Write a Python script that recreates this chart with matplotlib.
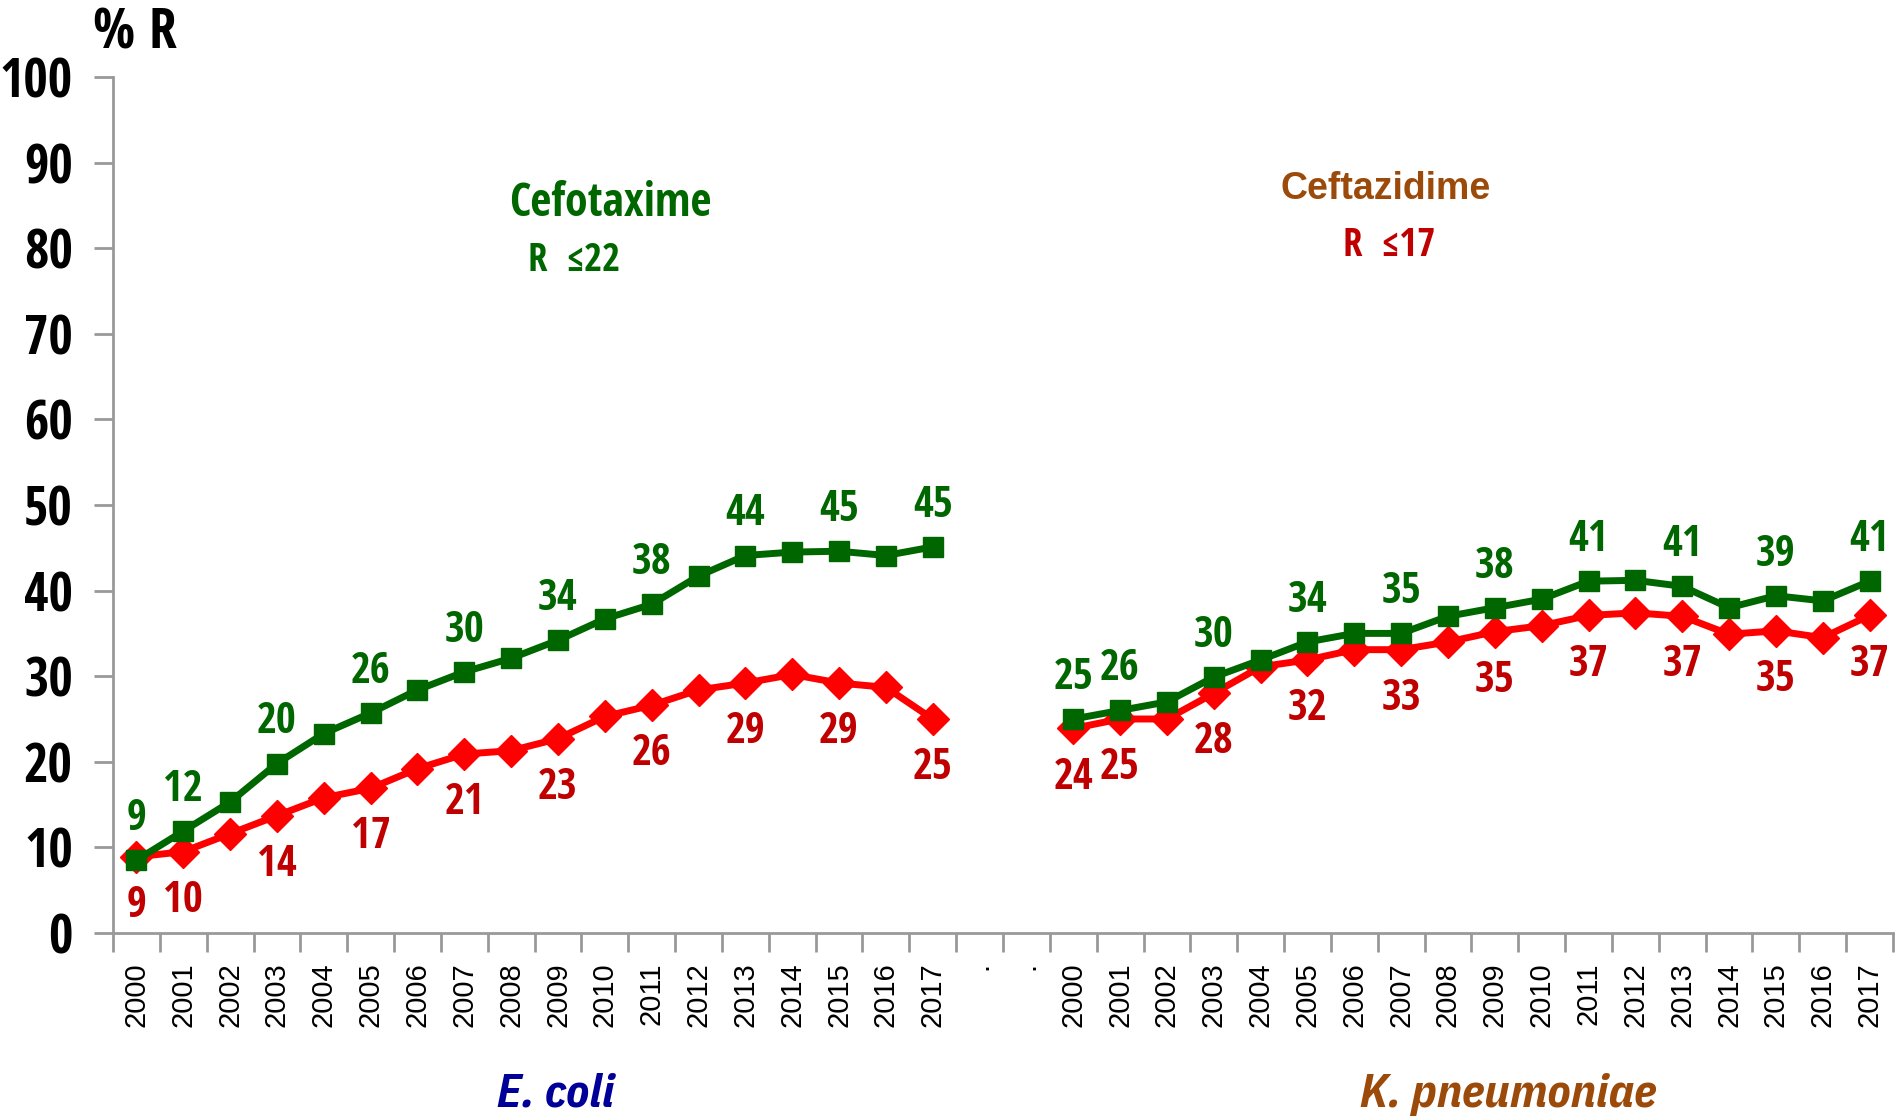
import matplotlib
matplotlib.use("Agg")
import matplotlib.pyplot as plt
import numpy as np

years = [str(y) for y in range(2000, 2018)]
gap_labels = [".", "."]

# E. coli
ecoli_green = [8.5, 11.9, 15.3, 19.8, 23.3, 25.7, 28.4, 30.5, 32.1, 34.2,
               36.7, 38.4, 41.7, 44.1, 44.5, 44.6, 44.1, 45.1]
ecoli_red = [8.9, 9.5, 11.6, 13.7, 15.8, 16.9, 19.2, 20.9, 21.3, 22.7,
             25.3, 26.6, 28.4, 29.2, 30.2, 29.2, 28.7, 25.0]
# K. pneumoniae
kpn_green = [25.0, 26.0, 27.0, 29.9, 31.9, 34.0, 35.0, 35.0, 37.0, 38.0,
             39.0, 41.1, 41.2, 40.5, 38.0, 39.4, 38.8, 41.1]
kpn_red = [23.9, 25.0, 25.0, 28.0, 31.1, 31.9, 33.1, 33.1, 34.0, 35.2,
           35.9, 37.1, 37.4, 37.0, 34.9, 35.3, 34.5, 37.1]

# value labels shown on the chart (every other year)
label_idx = [0, 1, 3, 5, 7, 9, 11, 13, 15, 17]
ecoli_green_lbl = [9, 12, 20, 26, 30, 34, 38, 44, 45, 45]
ecoli_red_lbl = [9, 10, 14, 17, 21, 23, 26, 29, 29, 25]
kpn_green_lbl = [25, 26, 30, 34, 35, 38, 41, 41, 39, 41]
kpn_red_lbl = [24, 25, 28, 32, 33, 35, 37, 37, 35, 37]

GREEN = "#006600"
RED_LINE = "#FF0000"
RED_TXT = "#C00000"
BROWN = "#9C4A0A"
NAVY = "#000099"
COND = ["Open Sans Condensed", "DejaVu Sans"]
COND_IT = ["IBM Plex Sans Condensed", "DejaVu Sans"]
ARIAL = ["Liberation Sans", "DejaVu Sans"]

fig = plt.figure(figsize=(18.95, 11.19), dpi=100)
ax = fig.add_axes([113 / 1895, 1 - 933 / 1119, (1893 - 113) / 1895, (933 - 77) / 1119])

labels = years + gap_labels + years
n = len(labels)
x_left = np.arange(18) + 0.5
x_right = np.arange(20, 38) + 0.5


def draw(x, green, red, green_lbl, red_lbl):
    ax.plot(x, green, color=GREEN, lw=5, marker="s", ms=14, zorder=3)
    ax.plot(x, red, color=RED_LINE, lw=5, marker="D", ms=16, zorder=2)
    for k, i in enumerate(label_idx):
        ax.annotate(str(green_lbl[k]), (x[i], green[i]), xytext=(0, 30),
                    textcoords="offset points", ha="center", va="center",
                    color=GREEN, fontsize=31, fontweight="bold", family=COND)
        ax.annotate(str(red_lbl[k]), (x[i], red[i]), xytext=(0, -35),
                    textcoords="offset points", ha="center", va="center",
                    color=RED_TXT, fontsize=31, fontweight="bold", family=COND)


draw(x_left, ecoli_green, ecoli_red, ecoli_green_lbl, ecoli_red_lbl)
draw(x_right, kpn_green, kpn_red, kpn_green_lbl, kpn_red_lbl)

ax.set_xlim(0, n)
ax.set_ylim(0, 100)
ax.set_yticks(range(0, 101, 10))
ax.set_xticks(np.arange(n + 1))
ax.set_xticklabels([])
ax.set_xticks(np.arange(n) + 0.5, minor=True)
ax.set_xticklabels(labels, minor=True, rotation=90, fontsize=21, family=ARIAL)
ax.tick_params(axis="x", which="major", length=14, width=2, color="#999999", direction="out")
ax.tick_params(axis="x", which="minor", length=0, pad=21)
ax.tick_params(axis="y", length=14, width=2, color="#999999", pad=15)
for t in ax.get_yticklabels():
    t.set_fontsize(38)
    t.set_fontweight("bold")
    t.set_family(COND)

for s in ["top", "right"]:
    ax.spines[s].set_visible(False)
for s in ["left", "bottom"]:
    ax.spines[s].set_color("#999999")
    ax.spines[s].set_linewidth(2)

fig.text(135 / 1895, 1 - 34 / 1119, "% R", fontsize=40, fontweight="bold",
         family=COND, ha="center", va="center")
fig.text(610 / 1895, 1 - 203 / 1119, "Cefotaxime", fontsize=33, fontweight="bold",
         family=COND, color=GREEN, ha="center", va="center")
fig.text(574 / 1895, 1 - 261 / 1119, "R  \u226422", fontsize=28, fontweight="bold",
         family=COND, color=GREEN, ha="center", va="center")
fig.text(1386 / 1895, 1 - 189 / 1119, "Ceftazidime", fontsize=27, fontweight="bold",
         family=ARIAL, color=BROWN, ha="center", va="center")
fig.text(1389 / 1895, 1 - 246 / 1119, "R  \u226417", fontsize=28, fontweight="bold",
         family=COND, color=RED_TXT, ha="center", va="center")
fig.text(556 / 1895, 1 - 1094 / 1119, "E. coli", fontsize=34, fontweight="bold",
         style="italic", family=COND_IT, color=NAVY, ha="center", va="center")
fig.text(1508 / 1895, 1 - 1094 / 1119, "K. pneumoniae", fontsize=34, fontweight="bold",
         style="italic", family=COND_IT, color=BROWN, ha="center", va="center")

fig.savefig("out.png", dpi=100)
